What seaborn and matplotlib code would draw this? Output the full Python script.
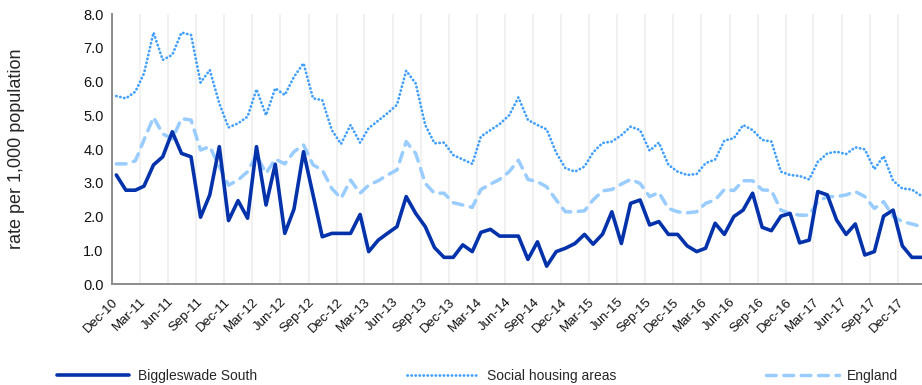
import numpy as np
import pandas as pd
import matplotlib
matplotlib.use("Agg")
import matplotlib.pyplot as plt
import matplotlib.dates as mdates
import seaborn as sns

# monthly values, Dec-10 .. Feb-18
months = pd.date_range("2010-12-01", periods=87, freq="MS") + pd.Timedelta(days=14)

biggleswade = [3.23, 2.78, 2.78, 2.9, 3.53, 3.77, 4.51, 3.87, 3.77, 1.98,
               2.64, 4.07, 1.88, 2.47, 1.95, 4.07, 2.34, 3.55, 1.5, 2.22,
               3.92, 2.64, 1.4, 1.5, 1.5, 1.5, 2.06, 0.96, 1.3, 1.5,
               1.7, 2.59, 2.09, 1.7, 1.08, 0.79, 0.79, 1.16, 0.96, 1.53,
               1.62, 1.42, 1.42, 1.42, 0.73, 1.25, 0.53, 0.96, 1.06, 1.2,
               1.47, 1.18, 1.48, 2.14, 1.2, 2.39, 2.49, 1.75, 1.85, 1.47,
               1.47, 1.13, 0.96, 1.06, 1.8, 1.47, 2.0, 2.19, 2.69, 1.68,
               1.58, 2.01, 2.09, 1.22, 1.3, 2.74, 2.64, 1.9, 1.47, 1.78,
               0.86, 0.96, 2.01, 2.19, 1.13, 0.79, 0.79]
social = [5.57, 5.5, 5.7, 6.24, 7.45, 6.64, 6.79, 7.45, 7.38, 5.97,
          6.34, 5.35, 4.64, 4.76, 4.96, 5.77, 5.0, 5.8, 5.6, 6.14,
          6.54, 5.5, 5.45, 4.56, 4.15, 4.71, 4.19, 4.62, 4.84, 5.06,
          5.31, 6.32, 5.94, 4.71, 4.17, 4.19, 3.82, 3.69, 3.56, 4.37,
          4.56, 4.74, 5.0, 5.53, 4.86, 4.71, 4.58, 3.89, 3.43, 3.33,
          3.48, 3.9, 4.18, 4.22, 4.41, 4.66, 4.56, 3.95, 4.19, 3.53,
          3.33, 3.23, 3.26, 3.58, 3.69, 4.25, 4.32, 4.71, 4.56, 4.27,
          4.22, 3.33, 3.23, 3.2, 3.1, 3.62, 3.87, 3.92, 3.85, 4.05,
          3.99, 3.4, 3.79, 3.06, 2.83, 2.8, 2.61]
england = [3.56, 3.56, 3.65, 4.27, 4.94, 4.45, 4.3, 4.9, 4.86, 3.97,
           4.07, 3.48, 2.93, 3.08, 3.33, 3.82, 3.28, 3.7, 3.56, 3.92,
           4.12, 3.53, 3.38, 2.83, 2.54, 3.08, 2.69, 2.93, 3.06, 3.23,
           3.38, 4.22, 3.87, 2.98, 2.69, 2.69, 2.41, 2.34, 2.27, 2.8,
           2.96, 3.1, 3.33, 3.67, 3.1, 3.03, 2.88, 2.49, 2.14, 2.14,
           2.17, 2.49, 2.76, 2.8, 2.96, 3.1, 2.98, 2.59, 2.71, 2.24,
           2.14, 2.11, 2.14, 2.39, 2.49, 2.8, 2.77, 3.06, 3.06, 2.79,
           2.77, 2.19, 2.09, 2.04, 2.04, 2.44, 2.59, 2.59, 2.64, 2.74,
           2.59, 2.24, 2.44, 2.0, 1.85, 1.78, 1.7]

df = pd.DataFrame({"month": months,
                   "Biggleswade South": biggleswade,
                   "Social housing areas": social,
                   "England": england})

sns.set_style("white")
plt.rcParams["font.family"] = ["Liberation Sans", "DejaVu Sans"]

fig = plt.figure(figsize=(9.22, 3.85), dpi=100)
ax = fig.add_axes([0.1215, 0.2623, 0.8785, 0.7013])

sns.lineplot(data=df, x="month", y="England", ax=ax, color="#99ccff", lw=2.5,
             linestyle=(0, (2.8, 2.2)), dash_capstyle="round", label="England")
sns.lineplot(data=df, x="month", y="Social housing areas", ax=ax, color="#42a0fb", lw=2.0,
             linestyle=(0, (0.1, 1.35)), dash_capstyle="round", label="Social housing areas")
sns.lineplot(data=df, x="month", y="Biggleswade South", ax=ax, color="#0432aa", lw=2.6,
             label="Biggleswade South")

ax.set_ylim(0, 8)
ax.set_yticks(np.arange(0, 8.1, 1))
ax.yaxis.set_major_formatter(matplotlib.ticker.FormatStrFormatter("%.1f"))
ax.set_xlim(pd.Timestamp("2010-12-01"), pd.Timestamp("2018-02-17"))
ax.set_xticks(pd.date_range("2010-12-01", "2017-12-01", freq="3MS"))
ax.xaxis.set_major_formatter(mdates.DateFormatter("%b-%y"))
plt.setp(ax.get_xticklabels(), rotation=45, ha="right", rotation_mode="anchor")

ax.grid(True, axis="x", color="#f0f0f0", lw=1.3)
ax.grid(False, axis="y")
sns.despine(ax=ax)
for s in ["left", "bottom"]:
    ax.spines[s].set_color("#8c8c8c")
    ax.spines[s].set_linewidth(1.4)
ax.tick_params(axis="both", direction="out", length=4.5, width=1.2, color="#8c8c8c",
               labelcolor="#111111")
ax.tick_params(axis="x", labelsize=9.5, pad=4)
ax.tick_params(axis="y", labelsize=10.5, pad=1.5)

ax.set_xlabel("")
ax.set_ylabel("rate per 1,000 population", fontsize=13)
ax.yaxis.set_label_coords(-0.107, 0.5)

handles, labels = ax.get_legend_handles_labels()
ax.get_legend().remove()
order = [2, 1, 0]
fig.legend([handles[i] for i in order], [labels[i] for i in order],
           loc="center", bbox_to_anchor=(0.062, 0.0, 0.912, 0.048), mode="expand",
           ncol=3, frameon=False, fontsize=10, handlelength=5.2, handletextpad=0.6,
           borderpad=0, borderaxespad=0)

fig.savefig("out.png", dpi=100)
